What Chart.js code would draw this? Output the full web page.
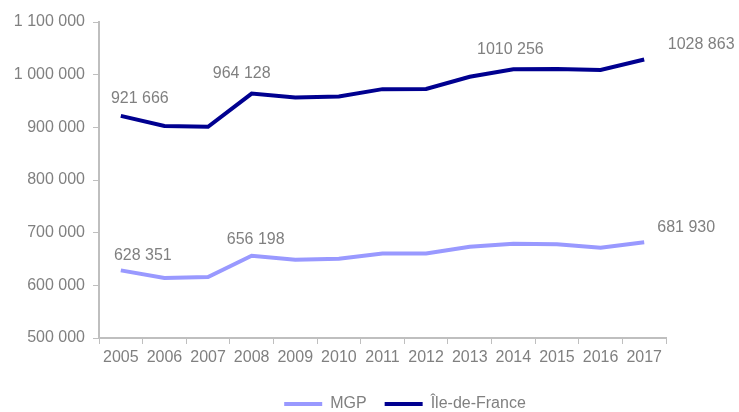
<!DOCTYPE html>
<html>
<head>
<meta charset="utf-8">
<script src="https://cdn.jsdelivr.net/npm/chart.js@4"></script>
<style>
  body { margin: 0; background: #fff; }
  #wrap { width: 739px; height: 412px; }
</style>
</head>
<body>
<div id="wrap"><canvas id="myChart" width="739" height="412"></canvas></div>
<script>
const years = ['2005', '2006', '2007', '2008', '2009', '2010', '2011', '2012', '2013', '2014', '2015', '2016', '2017'];
const mgp = [628351, 613900, 615800, 656198, 648700, 650600, 660500, 660500, 673400, 679000, 677900, 671500, 681930];
const idf = [921666, 902500, 901000, 964128, 956600, 958500, 972500, 973000, 996000, 1010256, 1010800, 1008900, 1028863];
const yTicks = [500000, 600000, 700000, 800000, 900000, 1000000, 1100000];

const grey = '#808080';

function spaced(v) {
    return String(v).replace(/\B(?=(\d{3})+(?!\d))/g, ' ');
}

// data labels use "1010 256" style, only the last group is split
function labelFmt(v) {
    const t = Math.floor(v / 1000);
    const r = String(v % 1000).padStart(3, '0');
    return t + ' ' + r;
}

const pointLabels = {
    id: 'pointLabels',
    afterDatasetsDraw(chart) {
        const ctx = chart.ctx;
        // [dataset, index, dx, dy]
        const spots = [
            [0, 0, 22, -15], [0, 3, 4, -16], [0, 12, 42, -15],
            [1, 0, 19, -17], [1, 3, -10, -20], [1, 9, -3, -20], [1, 12, 57, -15]
        ];
        ctx.save();
        ctx.font = '16px "Liberation Sans", Arial, sans-serif';
        ctx.fillStyle = grey;
        ctx.textAlign = 'center';
        ctx.textBaseline = 'middle';
        spots.forEach(([d, i, dx, dy]) => {
            const pt = chart.getDatasetMeta(d).data[i];
            const v = chart.data.datasets[d].data[i];
            ctx.fillText(labelFmt(v), pt.x + dx, pt.y + dy);
        });
        ctx.restore();
    }
};

// the legend sits right of centre in the original
const legendShift = {
    id: 'legendShift',
    afterLayout(chart) {
        const l = chart.legend;
        l.left += 72; l.right += 72;
        l.top += 10; l.bottom += 10;
    }
};

const ctx = document.getElementById('myChart').getContext('2d');
Chart.defaults.font.family = '"Liberation Sans", Arial, sans-serif';
Chart.defaults.font.size = 16;
Chart.defaults.color = grey;

new Chart(ctx, {
    type: 'line',
    data: {
        labels: years,
        datasets: [{
            label: 'MGP',
            data: mgp,
            borderColor: '#9999ff',
            backgroundColor: '#9999ff',
            borderWidth: 4,
            pointRadius: 0,
            tension: 0,
            fill: false
        }, {
            label: 'Île-de-France',
            data: idf,
            borderColor: '#000090',
            backgroundColor: '#000090',
            borderWidth: 4,
            pointRadius: 0,
            tension: 0,
            fill: false
        }]
    },
    options: {
        responsive: false,
        animation: false,
        layout: { padding: { top: 22, right: 73, left: 0, bottom: 0 } },
        plugins: {
            legend: {
                position: 'bottom',
                labels: {
                    usePointStyle: true,
                    pointStyle: 'line',
                    pointStyleWidth: 38,
                    padding: 18,
                    color: grey,
                    font: { size: 16 }
                }
            },
            tooltip: { enabled: false }
        },
        scales: {
            x: {
                offset: true,
                grid: { display: true, offset: true, drawOnChartArea: false, color: '#bfbfbf', tickLength: 6 },
                border: { color: '#bfbfbf', width: 2 },
                ticks: { color: grey, padding: 4, maxRotation: 0, autoSkip: false },
                afterFit(s) { s.height = 30; }
            },
            y: {
                min: 500000,
                max: 1100000,
                afterBuildTicks(s) { s.ticks = yTicks.map(v => ({ value: v })); },
                grid: { display: true, drawOnChartArea: false, color: '#bfbfbf', tickLength: 6 },
                border: { color: '#bfbfbf', width: 2 },
                ticks: { color: grey, padding: 8, callback: v => spaced(v) },
                afterFit(s) { s.width = 99; }
            }
        }
    },
    plugins: [pointLabels, legendShift]
});
</script>
</body>
</html>
